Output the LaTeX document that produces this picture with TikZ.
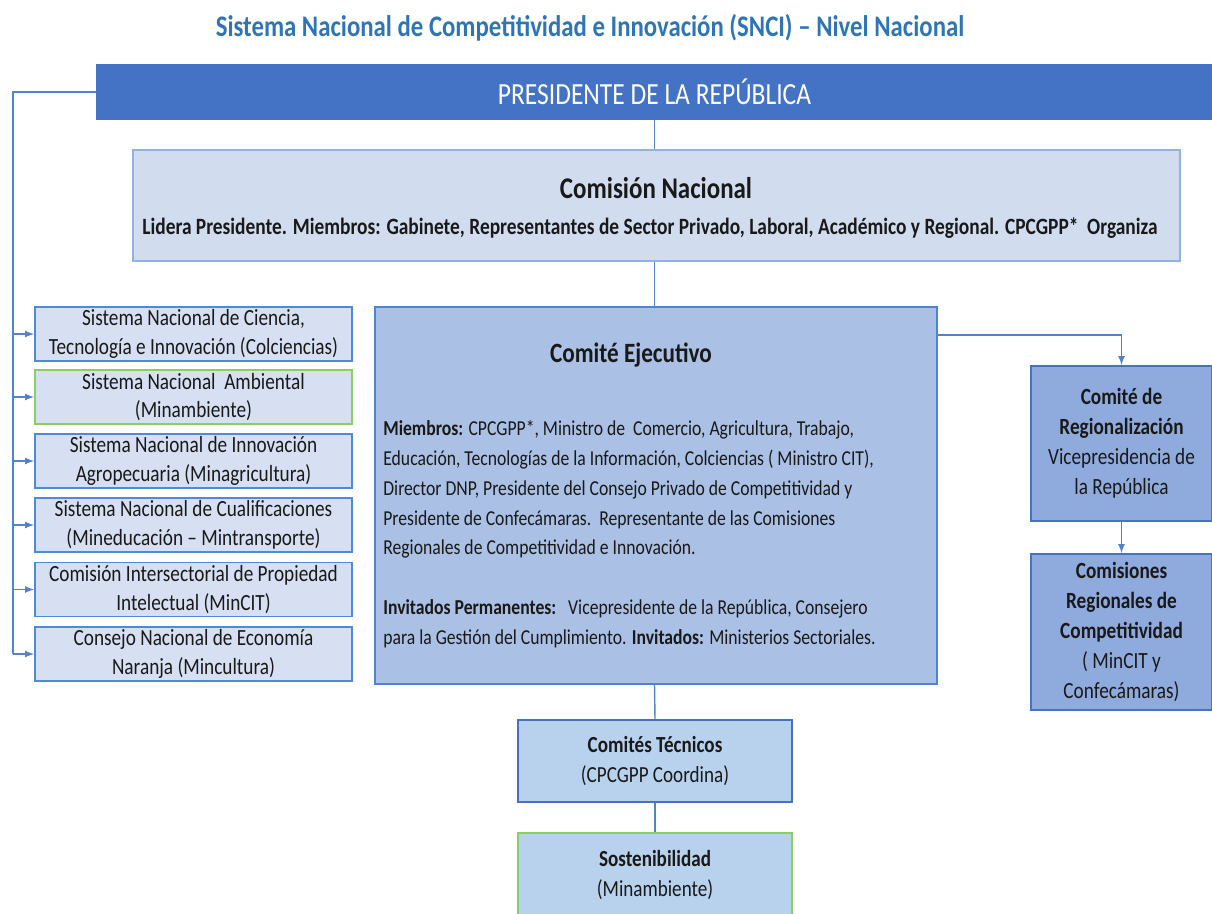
\documentclass[tikz,border=0pt]{standalone}
\usepackage{fontspec}
\setmainfont{Carlito}[FakeStretch=0.83]
\usetikzlibrary{calc}

\definecolor{titleblue}{RGB}{46,117,182}
\definecolor{presblue}{RGB}{68,114,196}
\definecolor{lineblue}{RGB}{82,132,204}
\definecolor{comfill}{RGB}{209,221,239}
\definecolor{comborder}{RGB}{142,180,228}
\definecolor{sisfill}{RGB}{214,224,242}
\definecolor{sisborder}{RGB}{78,138,214}
\definecolor{ejefill}{RGB}{170,192,228}
\definecolor{ejeborder}{RGB}{80,130,210}
\definecolor{regfill}{RGB}{143,170,220}
\definecolor{tecfill}{RGB}{184,210,238}
\definecolor{tecborder}{RGB}{72,112,192}
\definecolor{greenborder}{RGB}{140,205,100}
\definecolor{inktext}{RGB}{25,25,25}

\tikzset{
  box/.style={draw, rectangle, inner sep=0pt, align=center, line width=1pt, text=inktext},
  sisbox/.style={box, fill=sisfill, minimum width=6.34cm, minimum height=1.08cm,
    font=\fontsize{13.2}{16.4}\selectfont},
  conn/.style={draw=lineblue, line width=0.8pt},
  arr/.style={conn, -latex}
}

\begin{document}
\begin{tikzpicture}[x=0.02cm, y=-0.02cm]
	\useasboundingbox (0,0) rectangle (1212,913);
	\node [font=\fontsize{17}{19}\selectfont\bfseries, text=titleblue] (title) at (590,28)
		{Sistema Nacional de Competitividad e Innovación (SNCI) – Nivel Nacional};
	\node [box, draw=presblue, fill=presblue, text=white, minimum width=22.3cm, minimum height=1.08cm,
		font=\fontsize{17.5}{19}\selectfont] (pres) at (654.5,92) {PRESIDENTE DE LA REPÚBLICA};
	% comision nacional
	\node [box, draw=comborder, fill=comfill, minimum width=20.94cm, minimum height=2.22cm] (com) at (656.5,205.5) {};
	\node [font=\fontsize{17.1}{19}\selectfont\bfseries, text=inktext] (comtitle) at (656,188) {Comisión Nacional};
	\node [font=\fontsize{13.3}{15}\selectfont\bfseries, text=inktext] (comsub) at (650,228)
		{Lidera Presidente. Miembros: Gabinete, Representantes de Sector Privado, Laboral, Académico y Regional. CPCGPP*\ \ Organiza};
	% comite ejecutivo
	\node [box, draw=ejeborder, fill=ejefill, minimum width=11.24cm, minimum height=7.54cm] (eje) at (656,495.5) {};
	\node [font=\fontsize{15.9}{18}\selectfont\bfseries, text=inktext] (ejetitle) at (631,355) {Comité Ejecutivo};
	\node [anchor=north west, inner sep=0pt, align=left, text=inktext, font=\fontsize{12.1}{17}\selectfont] (ejetext) at (383,420)
		{\textbf{Miembros:} CPCGPP*, Ministro de\ \ Comercio, Agricultura, Trabajo,\\
		 Educación, Tecnologías de la Información, Colciencias ( Ministro CIT),\\
		 Director DNP, Presidente del Consejo Privado de Competitividad y\\
		 Presidente de Confecámaras.\ \ Representante de las Comisiones\\
		 Regionales de Competitividad e Innovación.\\[17pt]
		 \textbf{Invitados Permanentes:}\ \ \ Vicepresidente de la República, Consejero\\
		 para la Gestión del Cumplimiento. \textbf{Invitados:} Ministerios Sectoriales.};
	% lado derecho
	\node [box, draw=presblue, fill=regfill, minimum width=3.62cm, minimum height=3.1cm,
		font=\fontsize{13.2}{17}\selectfont] (reg) at (1121.5,443.5)
		{\textbf{Comité de}\\\textbf{Regionalización}\\Vicepresidencia\ de\\la República};
	\node [box, draw=presblue, fill=regfill, minimum width=3.62cm, minimum height=3.12cm,
		font=\fontsize{13.2}{17}\selectfont] (cre) at (1121.5,632)
		{\textbf{Comisiones}\\\textbf{Regionales de}\\\textbf{Competitividad}\\( MinCIT y\\Confecámaras)};
	% abajo
	\node [box, draw=tecborder, fill=tecfill, minimum width=5.48cm, minimum height=1.64cm,
		font=\fontsize{13.1}{17}\selectfont] (tec) at (655,761) {\textbf{Comités Técnicos}\\(CPCGPP Coordina)};
	\node [box, draw=greenborder, fill=tecfill, minimum width=5.48cm, minimum height=1.68cm,
		font=\fontsize{13.1}{17}\selectfont] (sos) at (655,875) {\textbf{Sostenibilidad}\\(Minambiente)};
	% sistemas
	\foreach \n/\y/\c/\txt in {1/334/sisborder/{Sistema Nacional de Ciencia,\\Tecnología e Innovación (Colciencias)},
			2/397/greenborder/{Sistema Nacional\ \ Ambiental\\(Minambiente)},
			3/461/sisborder/{Sistema Nacional de Innovación\\Agropecuaria (Minagricultura)},
			4/525/sisborder/{Sistema Nacional de Cualificaciones\\(Mineducación – Mintransporte)},
			5/589.5/sisborder/{Comisión Intersectorial de Propiedad\\Intelectual (MinCIT)},
			6/654/sisborder/{Consejo Nacional de Economía\\Naranja (Mincultura)}}{
			\node [sisbox, draw=\c] (sis\n) at (193.5,\y) {\txt};
		}
	\coordinate (lft) at (13,654);
	\coordinate (ejeR) at (937,335);
	\draw [conn] (pres.west) -| (lft);
	\foreach \n in {1,...,6}{
			\draw [arr] (lft |- sis\n.west) -- (sis\n.west);
		}
	\draw [conn] (pres.south) -- (pres.south |- com.north);
	\draw [conn] (pres.south |- com.south) -- (pres.south |- eje.north);
	\draw [conn] (pres.south |- eje.south) -- (tec.north);
	\draw [conn] (tec.south) -- (sos.north);
	\draw [arr] (ejeR) -| (reg.north);
	\draw [arr] (reg.south) -- (cre.north);
\end{tikzpicture}
\end{document}
